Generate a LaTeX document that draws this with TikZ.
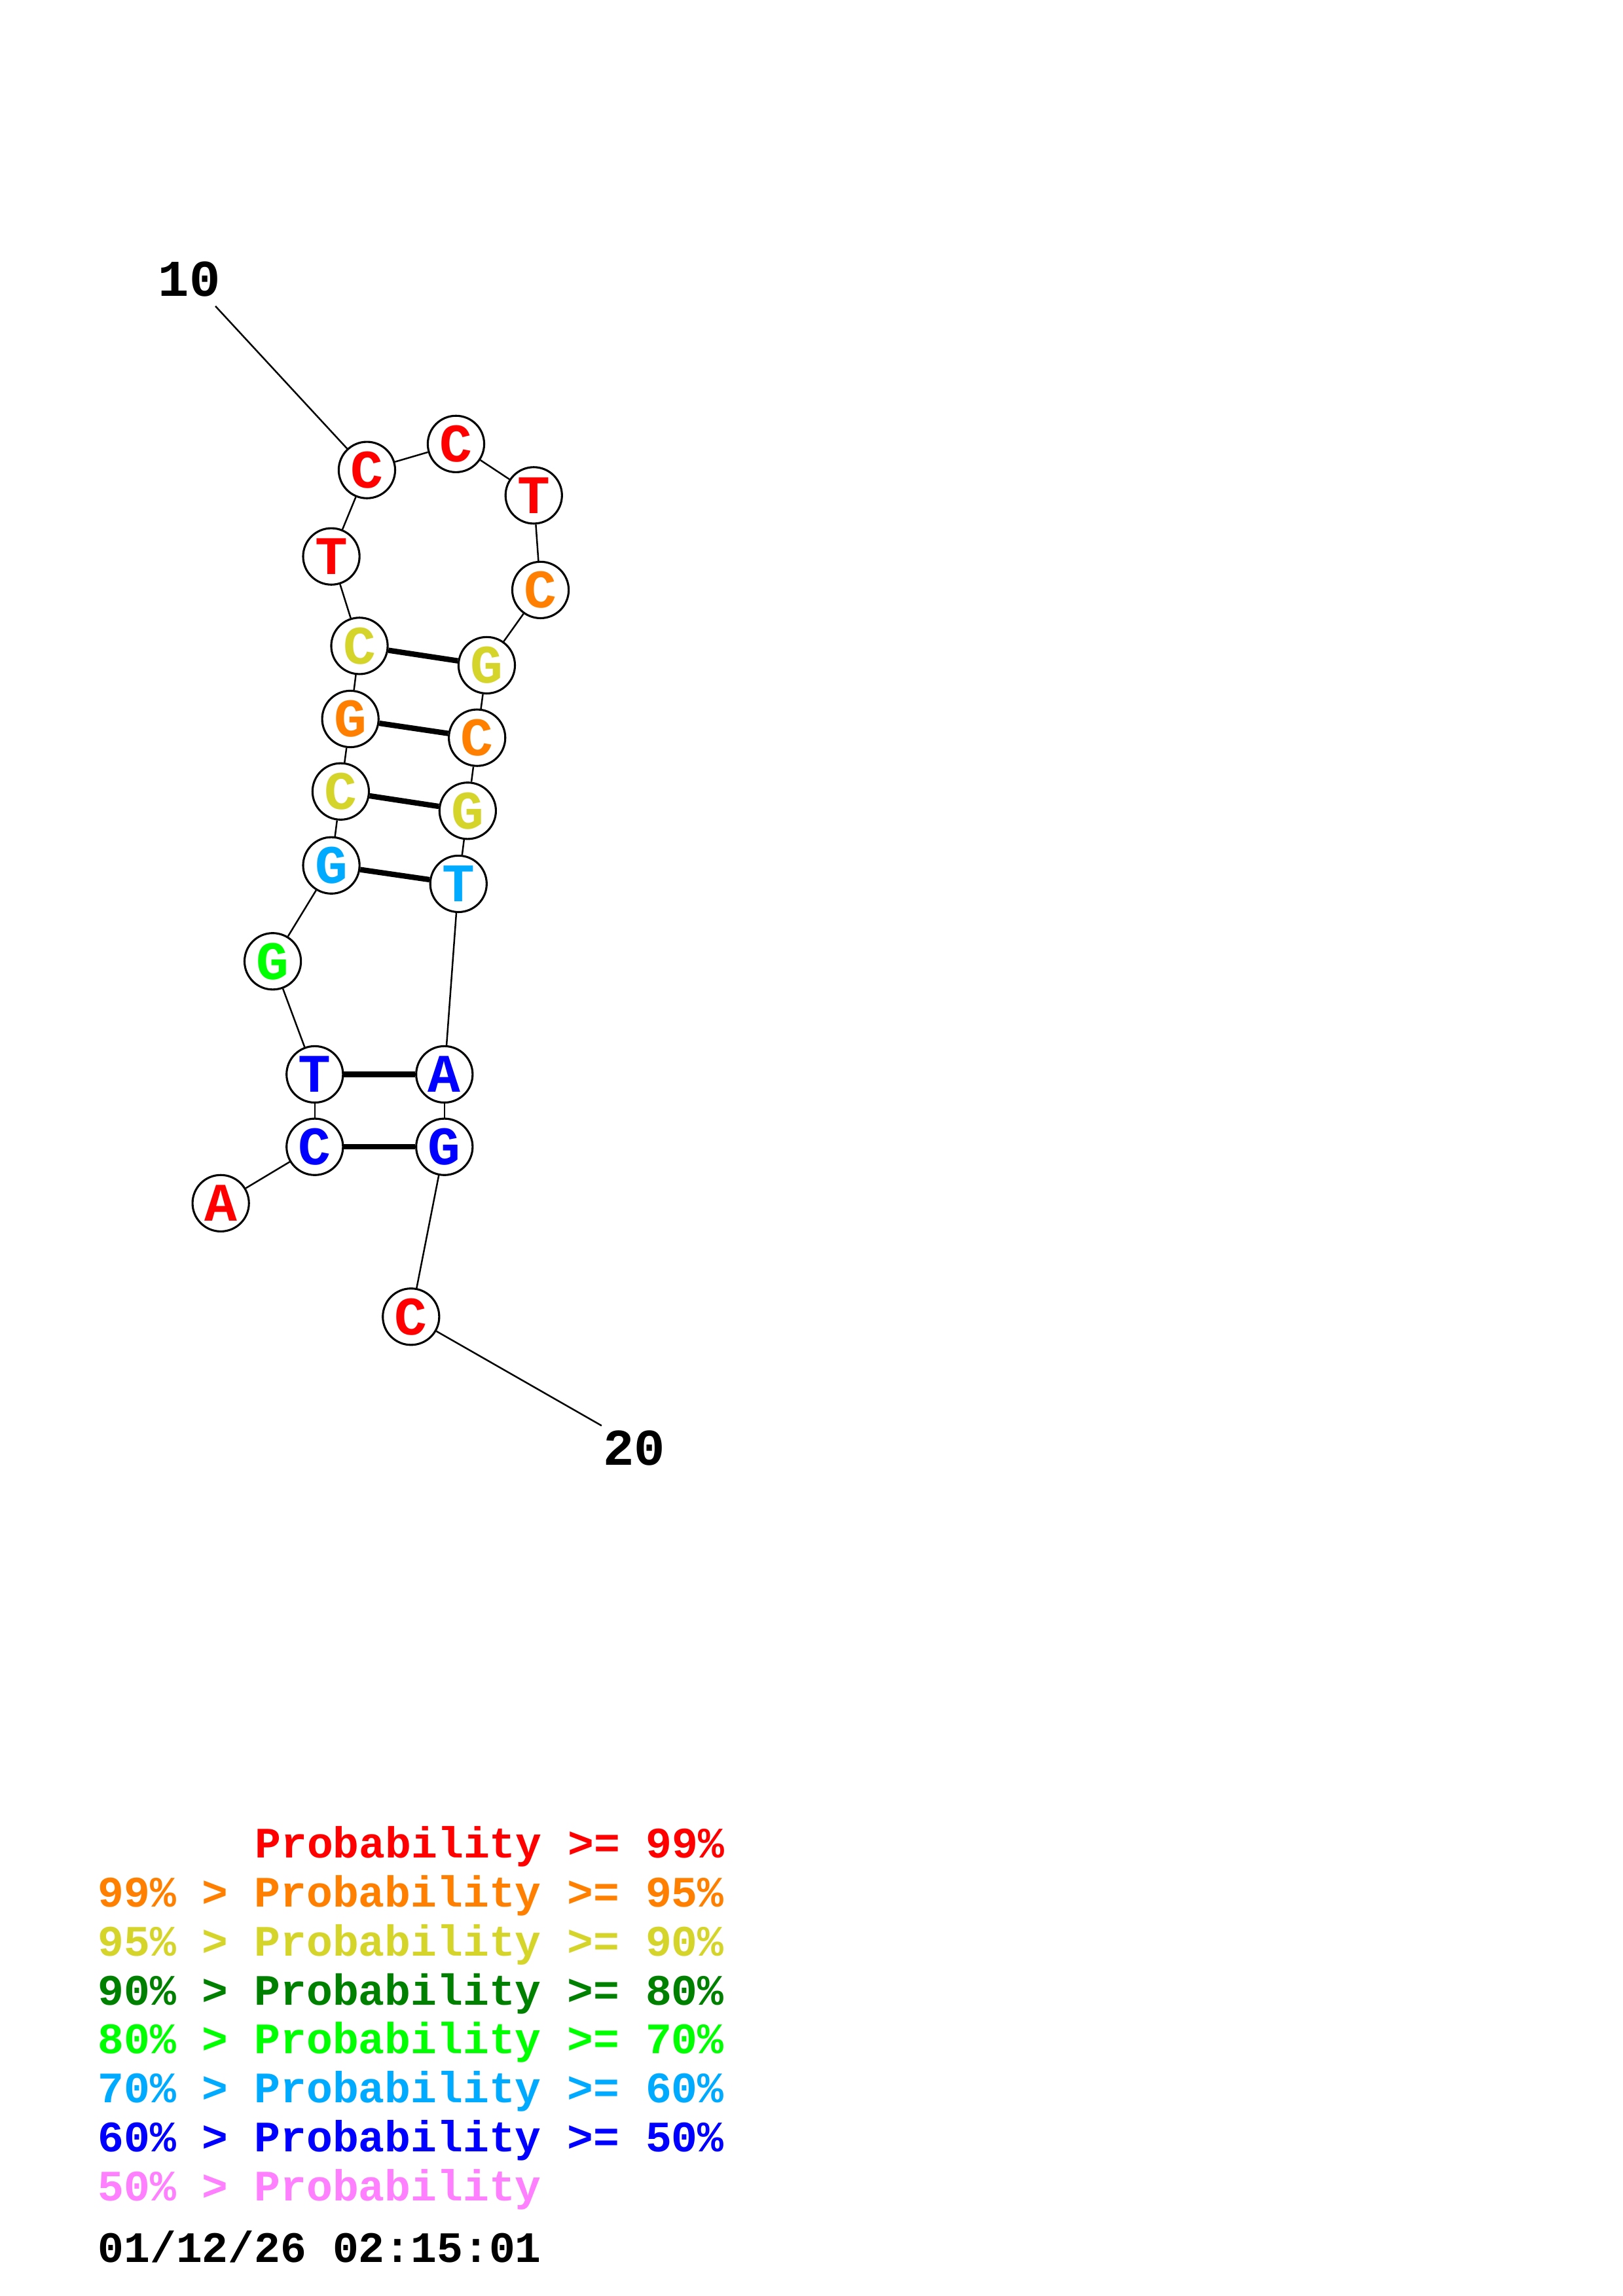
\documentclass[tikz,border=0pt]{standalone}
\usepackage{fontspec}
\newfontfamily\courfont{Liberation Mono}
\usepackage{xcolor}
\usepackage{tikz}
\usetikzlibrary{positioning}

\definecolor{probA}{RGB}{255,0,0}
\definecolor{probB}{RGB}{255,128,0}
\definecolor{probC}{RGB}{212,212,42}
\definecolor{probD}{RGB}{0,128,0}
\definecolor{probE}{RGB}{0,255,0}
\definecolor{probF}{RGB}{0,170,255}
\definecolor{probG}{RGB}{0,0,255}
\definecolor{probH}{RGB}{255,128,255}

\tikzset{
    base/.style={circle, draw, fill=white, line width=0.75pt, minimum size=0.73cm, inner sep=0pt,
        font=\courfont\bfseries\fontsize{20}{24}\selectfont},
    backbone/.style={line width=0.6pt},
    pairline/.style={line width=2pt},
    numlabel/.style={font=\courfont\bfseries\fontsize{19}{23}\selectfont, inner sep=0pt},
    legend/.style={anchor=base west, inner sep=0pt, font=\courfont\bfseries\fontsize{16}{19}\selectfont}
}

\begin{document}
\begin{tikzpicture}[x=0.018953cm, y=-0.018953cm]
    \useasboundingbox (0,0) rectangle (1108,1568);

    % nucleotides
    \node (n1)  [base, text=probA] at (150.7,821.7) {A};
    \node (n2)  [base, text=probG] at (214.9,783.2) {C};
    \node (n3)  [base, text=probG] at (214.9,733.7) {T};
    \node (n4)  [base, text=probE] at (186.2,656.5) {G};
    \node (n5)  [base, text=probF] at (226.2,591.0) {G};
    \node (n6)  [base, text=probC] at (232.6,540.5) {C};
    \node (n7)  [base, text=probB] at (239.2,491.0) {G};
    \node (n8)  [base, text=probC] at (245.4,441.1) {C};
    \node (n9)  [base, text=probA] at (226.2,380.0) {T};
    \node (n10) [base, text=probA] at (250.5,321.0) {C};
    \node (n11) [base, text=probA] at (311.3,303.2) {C};
    \node (n12) [base, text=probA] at (364.4,338.3) {T};
    \node (n13) [base, text=probB] at (369.0,402.9) {C};
    \node (n14) [base, text=probC] at (332.3,454.3) {G};
    \node (n15) [base, text=probB] at (325.7,503.8) {C};
    \node (n16) [base, text=probC] at (319.3,553.7) {G};
    \node (n17) [base, text=probF] at (313.0,603.6) {T};
    \node (n18) [base, text=probG] at (303.4,733.7) {A};
    \node (n19) [base, text=probG] at (303.4,783.2) {G};
    \node (n20) [base, text=probA] at (280.6,899.2) {C};

    % numbering
    \node (lab10) [numlabel] at (129.2,190.8) {10};
    \node (lab20) [numlabel] at (433.0,989.0) {20};
    \coordinate (e10) at (147.1,209.1);
    \coordinate (e20) at (410.7,973.6);

    % backbone
    \draw [backbone] (n1) -- (n2);
    \draw [backbone] (n2) -- (n3);
    \draw [backbone] (n3) -- (n4);
    \draw [backbone] (n4) -- (n5);
    \draw [backbone] (n5) -- (n6);
    \draw [backbone] (n6) -- (n7);
    \draw [backbone] (n7) -- (n8);
    \draw [backbone] (n8) -- (n9);
    \draw [backbone] (n9) -- (n10);
    \draw [backbone] (n10) -- (n11);
    \draw [backbone] (n11) -- (n12);
    \draw [backbone] (n12) -- (n13);
    \draw [backbone] (n13) -- (n14);
    \draw [backbone] (n14) -- (n15);
    \draw [backbone] (n15) -- (n16);
    \draw [backbone] (n16) -- (n17);
    \draw [backbone] (n17) -- (n18);
    \draw [backbone] (n18) -- (n19);
    \draw [backbone] (n19) -- (n20);
    \draw [backbone] (e10) -- (n10);
    \draw [backbone] (n20) -- (e20);

    % base pairs
    \draw [pairline] (n2) -- (n19);
    \draw [pairline] (n3) -- (n18);
    \draw [pairline] (n5) -- (n17);
    \draw [pairline] (n6) -- (n16);
    \draw [pairline] (n7) -- (n15);
    \draw [pairline] (n8) -- (n14);

    % legend
    \node (leg1) [legend, text=probA] at (173.7,1268.6) {Probability >= 99\%};
    \node (leg2) [legend, text=probB] at (66.5,1302.1) {99\% > Probability >= 95\%};
    \node (leg3) [legend, text=probC] at (66.5,1335.6) {95\% > Probability >= 90\%};
    \node (leg4) [legend, text=probD] at (66.5,1369.1) {90\% > Probability >= 80\%};
    \node (leg5) [legend, text=probE] at (66.5,1402.6) {80\% > Probability >= 70\%};
    \node (leg6) [legend, text=probF] at (66.5,1436.1) {70\% > Probability >= 60\%};
    \node (leg7) [legend, text=probG] at (66.5,1469.6) {60\% > Probability >= 50\%};
    \node (leg8) [legend, text=probH] at (66.5,1503.1) {50\% > Probability};
    \node (stamp) [legend, text=black] at (66.5,1545.0) {01/12/26 02:15:01};
\end{tikzpicture}
\end{document}
